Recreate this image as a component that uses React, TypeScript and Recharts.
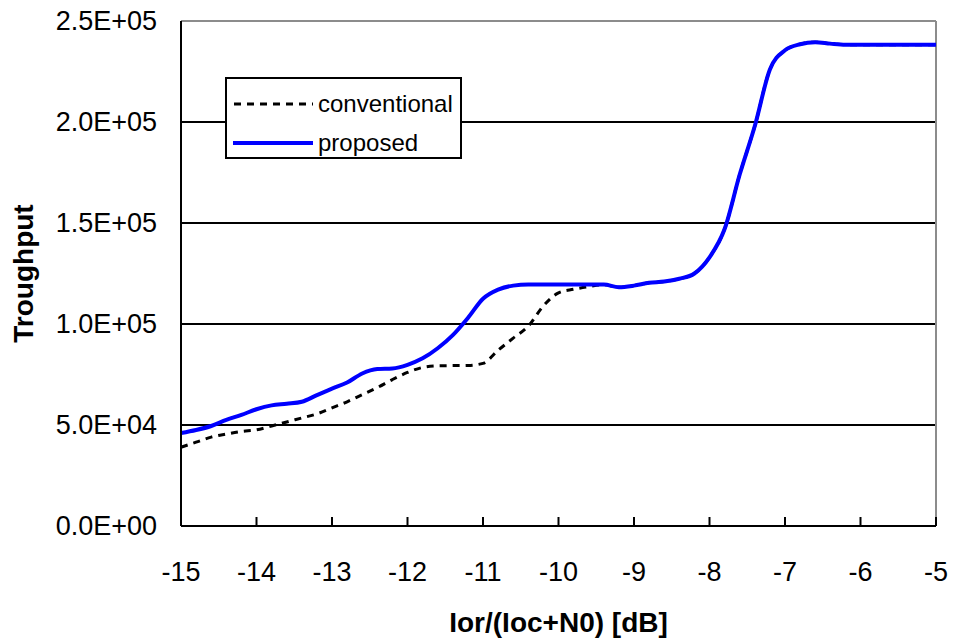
import React from "react";
import {
    LineChart,
    Line,
    XAxis,
    YAxis,
    ReferenceLine,
    Legend,
} from "recharts";

const xValues = [
    -15, -14.8, -14.6, -14.4, -14.2, -14, -13.8, -13.6, -13.4, -13.2,
    -13, -12.8, -12.6, -12.4, -12.2, -12, -11.8, -11.6, -11.4, -11.2,
    -11, -10.8, -10.6, -10.4, -10.2, -10, -9.8, -9.6, -9.4, -9.2,
    -9, -8.8, -8.6, -8.4, -8.2, -8, -7.8, -7.6, -7.4, -7.2,
    -7, -6.8, -6.6, -6.4, -6.2, -6, -5.8, -5.6, -5.4, -5.2, -5,
];

const conventional = [
    39000, 41500, 44000, 45500, 46800, 47600, 49500, 51500, 53500, 55500,
    58500, 61500, 65000, 68500, 72500, 76000, 78500, 79300, 79400, 79500,
    80500, 87000, 93000, 99000, 109000, 115400, 117200, 118500, 119400, 118200,
    119000, 120400, 121000, 122400, 125000, 133000, 147000, 174000, 198000, 226000,
    235500, 238500, 239500, 238800, 238300, 238300, 238300, 238300, 238300, 238300, 238300,
];

const proposed = [
    46000, 47500, 49500, 52500, 55000, 57800, 59700, 60500, 61500, 64800,
    68000, 71000, 75500, 77700, 78000, 79800, 83000, 88000, 94500, 103000,
    112500, 117000, 119000, 119500, 119500, 119500, 119500, 119500, 119500, 118200,
    119000, 120400, 121000, 122400, 125000, 133000, 147000, 174000, 198000, 226000,
    235500, 238500, 239500, 238800, 238300, 238300, 238300, 238300, 238300, 238300, 238300,
];

const xTicks = [-15, -14, -13, -12, -11, -10, -9, -8, -7, -6, -5];
const yTicks = [0, 50000, 100000, 150000, 200000, 250000];
const gridValues = [50000, 100000, 150000, 200000];

const seriesNames = ["conventional", "proposed"];

const FONT = "'Liberation Sans', Arial, sans-serif";

const data = xValues.map((x, i) => ({
    x,
    conventional: conventional[i],
    proposed: proposed[i],
}));

function sci(v: number) {
    if (v === 0) return "0.0E+00";
    const exp = Math.floor(Math.log10(v));
    const mant = v / Math.pow(10, exp);
    return `${mant.toFixed(1)}E+${String(exp).padStart(2, "0")}`;
}

function XTick(props: any) {
    const { x, y, payload } = props;
    return (
        <g>
            <line x1={x} y1={y} x2={x} y2={y - 9} stroke="#000" strokeWidth={2} />
            <text x={x} y={y + 55} textAnchor="middle" fontFamily={FONT} fontSize={27} fill="#000">
                {payload.value}
            </text>
        </g>
    );
}

function YTick(props: any) {
    const { x, y, payload } = props;
    return (
        <text x={x} y={y} dy="0.35em" textAnchor="end" fontFamily={FONT} fontSize={27} fill="#000">
            {sci(payload.value)}
        </text>
    );
}

function LegendBox() {
    return (
        <div
            style={{
                position: "relative",
                width: 237,
                height: 82,
                border: "2px solid #000",
                boxSizing: "border-box",
                background: "#fff",
                fontFamily: FONT,
                fontSize: 24,
                color: "#000",
            }}
        >
            {seriesNames.map((name, i) => (
                <div
                    key={name}
                    style={{
                        position: "absolute",
                        left: 6,
                        top: i === 0 ? 10 : 49,
                        height: 30,
                        display: "flex",
                        alignItems: "center",
                        whiteSpace: "nowrap",
                    }}
                >
                    <svg width={80} height={10} style={{ marginRight: 5 }}>
                        {i === 0 ? (
                            <line x1={1} y1={5} x2={80} y2={5} stroke="#000" strokeWidth={3} strokeDasharray="7 6" />
                        ) : (
                            <line x1={0} y1={5} x2={80} y2={5} stroke="#0000ff" strokeWidth={4} />
                        )}
                    </svg>
                    <span>{name}</span>
                </div>
            ))}
        </div>
    );
}

export default function App() {
    return (
        <div style={{ position: "absolute", left: 0, top: 0, background: "#fff" }}>
            <LineChart
                width={953}
                height={640}
                data={data}
                margin={{ top: 21, right: 17, bottom: 64, left: 61 }}
            >
                <XAxis
                    dataKey="x"
                    type="number"
                    domain={[-15, -5]}
                    ticks={xTicks}
                    height={50}
                    tickSize={0}
                    tickMargin={0}
                    tickLine={false}
                    axisLine={{ stroke: "#000", strokeWidth: 2 }}
                    tick={<XTick />}
                    interval={0}
                    label={{
                        value: "Ior/(Ioc+N0) [dB]",
                        content: (p: any) => {
                            const vb = p.viewBox;
                            return (
                                <text
                                    x={vb.x + vb.width / 2}
                                    y={vb.y + 106}
                                    textAnchor="middle"
                                    fontFamily={FONT}
                                    fontSize={28}
                                    fontWeight="bold"
                                    fill="#000"
                                >
                                    Ior/(Ioc+N0) [dB]
                                </text>
                            );
                        },
                    }}
                />
                <YAxis
                    type="number"
                    domain={[0, 250000]}
                    ticks={yTicks}
                    width={120}
                    tickSize={0}
                    tickMargin={24}
                    tickLine={false}
                    axisLine={{ stroke: "#000", strokeWidth: 2 }}
                    tick={<YTick />}
                    interval={0}
                    label={{
                        value: "Troughput",
                        content: (p: any) => {
                            const vb = p.viewBox;
                            const cx = vb.x - 38;
                            const cy = vb.y + vb.height / 2;
                            return (
                                <text
                                    x={cx}
                                    y={cy}
                                    dy="0.35em"
                                    transform={`rotate(-90 ${cx} ${cy})`}
                                    textAnchor="middle"
                                    fontFamily={FONT}
                                    fontSize={28}
                                    fontWeight="bold"
                                    fill="#000"
                                >
                                    Troughput
                                </text>
                            );
                        },
                    }}
                />
                {gridValues.map((v) => (
                    <ReferenceLine key={v} y={v} stroke="#000" strokeWidth={2} />
                ))}
                <ReferenceLine y={250000} stroke="#8c8c8c" strokeWidth={2} />
                <ReferenceLine x={-5} stroke="#8c8c8c" strokeWidth={2} />
                <Legend
                    layout="vertical"
                    align="center"
                    verticalAlign="middle"
                    wrapperStyle={{ left: 225, top: 77, width: 237, height: 82 }}
                    content={() => <LegendBox />}
                />
                <Line
                    type="monotone"
                    dataKey="conventional"
                    stroke="#000"
                    strokeWidth={3}
                    strokeDasharray="7 6"
                    dot={false}
                    isAnimationActive={false}
                />
                <Line
                    type="monotone"
                    dataKey="proposed"
                    stroke="#0000ff"
                    strokeWidth={4}
                    dot={false}
                    isAnimationActive={false}
                />
            </LineChart>
        </div>
    );
}
